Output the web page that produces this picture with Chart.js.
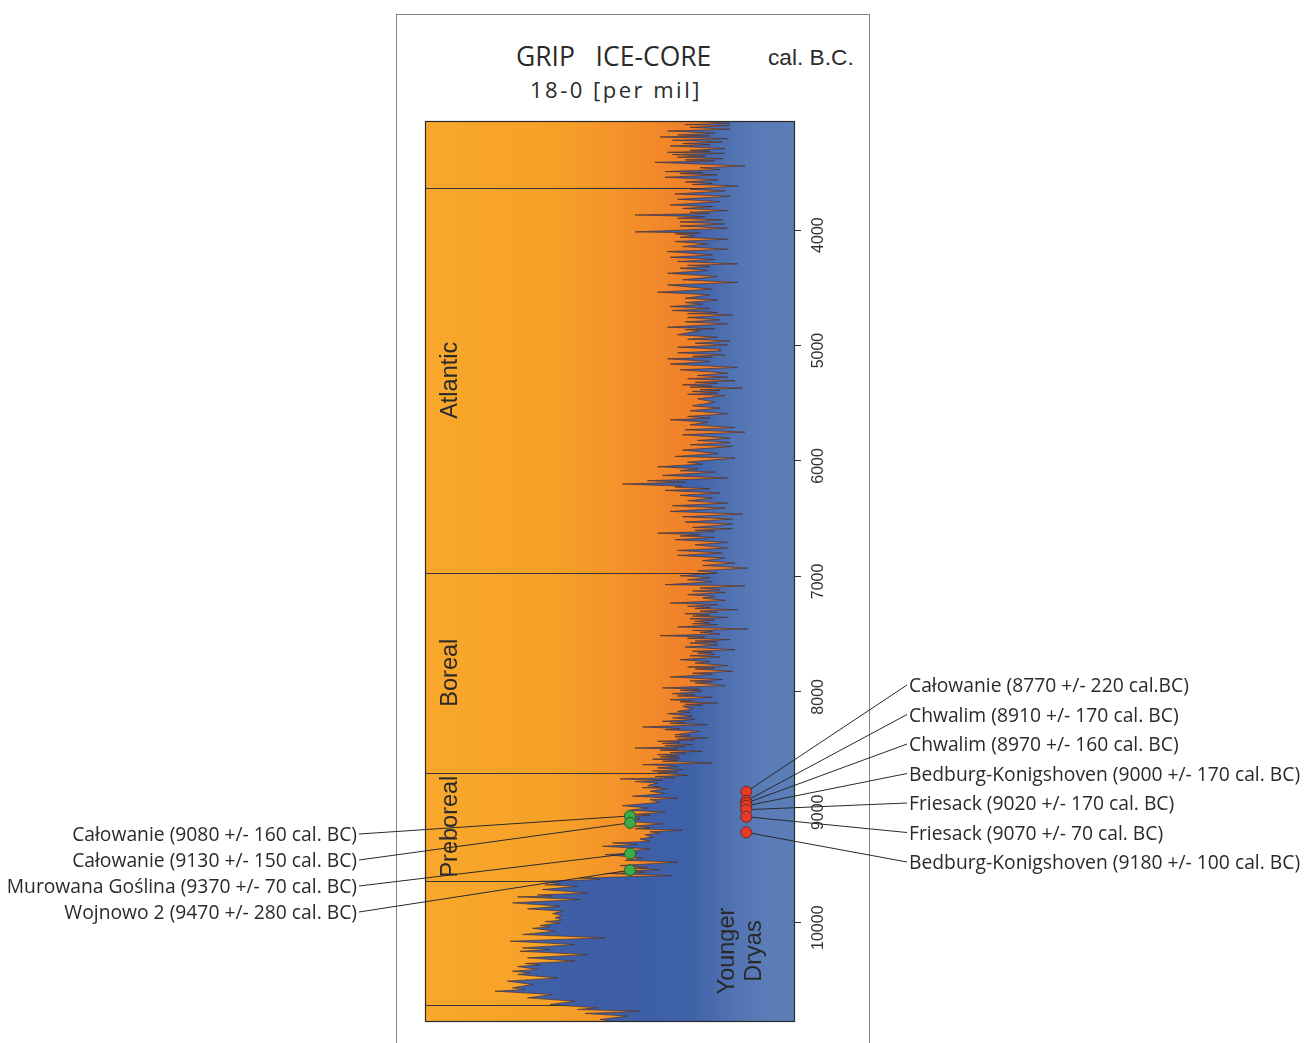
<!DOCTYPE html>
<html>
<head>
<meta charset="utf-8">
<title>GRIP ice-core</title>
<script src="https://cdn.jsdelivr.net/npm/chart.js@4.4.1/dist/chart.umd.min.js"></script>
<style>
  html, body { margin: 0; padding: 0; background: #fff; }
  body { position: relative; width: 1306px; height: 1043px; overflow: hidden; }
  #frame { position: absolute; left: 396px; top: 14px; width: 474px; height: 1100px; border: 1px solid #858585; box-sizing: border-box; }
  .hd { position: absolute; white-space: pre; color: #2b2b2b; line-height: 1; }
  #title { left: 516px; top: 43px; font-size: 26.5px; font-family: "Open Sans", sans-serif; }
  #sub { left: 530px; top: 78px; font-size: 22px; font-family: "Open Sans", sans-serif; letter-spacing: 2.5px; }
  #unit { left: 768px; top: 46px; font-size: 22.7px; font-family: "Liberation Sans", Arial, sans-serif; }
  canvas { position: absolute; left: 0; top: 0; }
</style>
</head>
<body>
<div id="frame"></div>
<div class="hd" id="title">GRIP   ICE-CORE</div>
<div class="hd" id="sub">18-0 [per mil]</div>
<div class="hd" id="unit">cal. B.C.</div>
<canvas id="chart" width="1306" height="1043"></canvas>
<script>
// GRIP d18O curve in four pieces (cal. years BC, per mil)
const coreYears1 = [3060,3075,3086,3095,3110,3127,3141,3161,3176,3185,3193,3208,3222,3237,3250,3260,3271,3294,3309,3317,
  3326,3335,3346,3358,3368,3381,3392,3402,3413,3444,3460,3476,3493,3503,3511,3522,3542,3565,3583,3595,
  3605,3617,3646,3661,3687,3707,3733,3753,3782,3797,3812,3831,3846,3856,3869,3884,3897,3912,3929,3947,
  3964,3984,4016,4024,4033,4048,4062,4079,4099,4120,4143,4166,4186,4215,4235,4255,4272,4293,4305,4316,
  4330,4350,4374,4402,4431,4454,4475,4512,4538,4561,4590,4607,4628,4642,4662,4679,4697,4714,4723,4734,
  4757,4778,4795,4812,4841,4855,4862,4870,4907,4928,4945,4959,4980,4994,5014,5032];
const coreD18O1 = [-35.0,-33.8,-35.6,-33.8,-35.4,-33.8,-36.3,-34.4,-35.9,-34.6,-36.6,-33.9,-36.1,-34.1,-35.7,-34.6,-36.2,-34.0,-35.4,-34.6,
  -36.3,-34.0,-36.1,-34.8,-35.9,-34.1,-35.6,-34.4,-36.8,-33.2,-35.0,-34.2,-36.4,-34.9,-35.8,-34.3,-36.4,-34.3,-35.6,-34.5,
  -35.3,-33.5,-35.4,-34.0,-36.0,-33.8,-35.9,-34.2,-36.2,-34.5,-35.7,-33.9,-35.4,-34.6,-37.6,-34.8,-35.9,-34.1,-35.8,-34.0,
  -35.8,-33.9,-37.6,-35.0,-36.0,-35.2,-35.8,-33.9,-36.0,-34.7,-35.7,-33.9,-36.3,-34.5,-36.2,-34.4,-35.9,-33.5,-35.5,-34.6,
  -35.8,-34.7,-36.3,-34.3,-35.7,-33.5,-36.3,-34.5,-36.7,-34.6,-35.6,-34.3,-35.6,-34.9,-36.2,-34.6,-36.1,-34.3,-35.5,-33.7,
  -35.5,-34.2,-35.6,-33.9,-36.3,-34.4,-35.6,-35.0,-35.9,-34.3,-35.5,-33.8,-35.2,-33.9,-35.9,-34.2];

const coreYears2 = [5046,5063,5081,5092,5102,5115,5138,5161,5190,5210,5239,5260,5274,5288,5306,5318,5328,5340,5352,5360,
  5369,5382,5390,5398,5412,5422,5433,5462,5490,5522,5542,5565,5591,5614,5629,5643,5664,5687,5710,5730,
  5750,5773,5802,5822,5840,5860,5874,5906,5935,5961,5975,6010,6027,6050,6068,6085,6096,6125,6148,6171,
  6183,6200,6218,6226,6241,6255,6278,6298,6322,6345,6365,6388,6408,6437,6460,6483,6503,6529,6547,6576,
  6587,6600,6610,6625,6640,6650,6662,6682,6705,6726,6754,6775,6798,6818,6841,6864,6884,6905,6928,6951,6971];
const coreD18O2 = [-34.2,-35.9,-34.0,-35.3,-34.5,-36.3,-34.6,-36.2,-33.5,-35.8,-33.9,-35.1,-33.9,-35.5,-33.6,-35.2,-34.3,-35.7,-34.5,-35.4,
  -33.3,-35.0,-34.2,-35.3,-34.3,-35.5,-34.0,-35.1,-34.4,-35.3,-34.2,-35.4,-33.9,-35.5,-34.6,-36.2,-34.7,-35.4,-33.6,-35.6,
  -33.2,-35.7,-33.8,-35.1,-33.8,-35.4,-33.7,-35.7,-34.3,-36.0,-33.6,-35.5,-34.9,-36.7,-35.1,-35.8,-34.4,-36.5,-33.9,-37.1,
  -35.6,-38.1,-35.7,-36.0,-34.6,-36.4,-34.2,-35.8,-34.5,-35.5,-33.9,-36.1,-34.0,-36.2,-33.3,-35.7,-33.7,-35.6,-33.7,-35.3,
  -33.7,-35.2,-34.4,-36.7,-35.0,-35.8,-34.4,-36.0,-33.9,-35.2,-33.9,-35.9,-34.1,-35.9,-34.0,-34.9,-33.6,-34.9,-33.1,-35.1,-34.3];

const coreYears3 = [6994,7011,7029,7046,7072,7081,7101,7115,7127,7138,7158,7173,7187,7208,7231,7245,7259,7270,7278,7288,
  7300,7312,7323,7335,7344,7355,7367,7378,7389,7402,7410,7418,7438,7456,7468,7476,7485,7499,7513,7525,
  7536,7548,7560,7568,7577,7594,7612,7635,7648,7656,7664,7676,7688,7698,7721,7739,7750,7773,7785,7794,
  7802,7822,7838,7848,7871,7894,7905,7914,7923,7946,7966,7978,7986,7995,8016,8028,8036,8047,8068,8080,
  8088,8096,8108,8116,8125,8148,8169,8177,8189,8212,8226,8240,8255,8265,8274,8284,8304,8318,8328,8342,
  8371,8380,8390,8399,8410,8418,8428,8438,8447,8457,8466,8476,8486,8496,8505,8515,8526,8535,8544,8554,
  8563,8573,8583,8592,8601,8616,8630,8645,8659,8674,8686,8694,8702,8723,8733,8744,8754,8766,8777,8789,
  8812,8825,8830,8838,8861,8881,8904,8922];
const coreD18O3 = [-35.8,-34.6,-35.5,-34.5,-36.4,-33.2,-35.0,-34.2,-35.3,-34.0,-35.5,-34.4,-34.9,-34.0,-36.2,-34.3,-35.5,-34.6,-35.2,-33.5,
  -35.0,-34.3,-35.6,-34.6,-35.3,-33.9,-35.4,-34.4,-35.2,-34.6,-35.3,-34.3,-35.9,-33.1,-35.3,-34.5,-35.0,-34.2,-36.6,-34.8,
  -35.5,-33.8,-35.2,-34.3,-35.4,-34.3,-35.6,-33.6,-35.3,-34.5,-35.1,-34.4,-35.4,-34.2,-35.8,-34.6,-35.2,-33.9,-35.5,-34.4,
  -35.2,-33.7,-35.3,-34.5,-36.2,-34.1,-35.4,-34.5,-35.2,-34.0,-36.5,-35.0,-35.8,-34.9,-36.1,-35.2,-35.9,-34.5,-36.2,-35.3,
  -35.8,-34.3,-35.6,-34.9,-35.7,-35.3,-35.9,-35.4,-36.3,-35.3,-36.1,-35.2,-36.5,-35.6,-36.2,-34.7,-37.3,-35.8,-36.4,-35.0,
  -36.0,-35.4,-36.0,-34.7,-35.9,-35.2,-36.7,-35.8,-36.5,-35.3,-36.4,-35.6,-37.6,-35.9,-36.6,-34.9,-36.2,-35.6,-36.7,-35.9,
  -36.6,-35.8,-36.9,-35.9,-36.5,-34.5,-37.3,-35.9,-36.7,-35.7,-36.9,-35.9,-36.7,-35.5,-36.8,-36.0,-38.2,-36.5,-37.6,-36.7,
  -37.1,-36.6,-37.3,-36.3,-37.0,-36.4,-37.7,-35.9];

const coreYears4 = [8934,8957,8986,9006,9026,9043,9061,9070,9078,9101,9121,9144,9164,9176,9186,9199,9212,9224,9237,9257,
  9274,9294,9309,9323,9338,9361,9381,9395,9410,9439,9459,9476,9505,9518,9528,9540,9552,9562,9574,9592,
  9612,9626,9641,9664,9672,9684,9713,9742,9759,9768,9776,9799,9828,9857,9880,9900,9921,9938,9958,9978,
  9990,10001,10024,10036,10048,10074,10102,10131,10160,10189,10218,10232,10247,10276,10304,10333,10353,10365,10379,10405,
  10420,10434,10449,10478,10506,10535,10564,10579,10593,10622,10651,10680,10709,10737,10752,10766,10786,10809,10838,10861];
const coreD18O4 = [-37.0,-36.6,-38.1,-37.1,-37.8,-36.4,-37.6,-37.0,-37.9,-37.4,-37.9,-36.5,-37.7,-37.0,-37.6,-35.7,-37.0,-36.6,-37.2,-36.9,
  -37.4,-37.0,-38.5,-37.5,-38.9,-37.0,-37.9,-37.5,-38.8,-37.3,-38.0,-35.9,-38.2,-37.1,-37.8,-36.6,-37.9,-37.2,-38.8,-36.1,
  -39.8,-39.0,-41.4,-40.6,-41.2,-39.9,-41.3,-39.5,-41.5,-40.9,-42.3,-39.8,-42.5,-40.6,-41.9,-40.5,-40.9,-40.5,-40.8,-40.5,
  -41.2,-40.6,-41.4,-41.0,-41.7,-40.8,-42.1,-38.8,-42.6,-40.0,-42.1,-41.0,-42.2,-39.5,-41.9,-40.0,-42.0,-41.4,-42.3,-41.5,
  -42.5,-41.8,-42.3,-40.7,-42.7,-41.7,-42.5,-42.0,-43.2,-40.9,-41.9,-40.0,-41.0,-39.1,-39.9,-37.4,-39.6,-37.9,-39.0,-38.3];

// y axis tick labels (cal. BC)
const yearTicks = [4000, 5000, 6000, 7000, 8000, 9000, 10000];

// pollen zones (boundaries in cal. BC)
const zoneBounds = [3635, 6968, 8700, 9635, 10717];
const zoneNames = ["Atlantic", "Boreal", "Preboreal", "Younger Dryas"];

// dated sites
const redSites = [
  "Całowanie (8770 +/- 220 cal.BC)",
  "Chwalim (8910 +/- 170 cal. BC)",
  "Chwalim (8970 +/- 160 cal. BC)",
  "Bedburg-Konigshoven (9000 +/- 170 cal. BC)",
  "Friesack (9020 +/- 170 cal. BC)",
  "Friesack (9070 +/- 70 cal. BC)",
  "Bedburg-Konigshoven (9180 +/- 100 cal. BC)"
];
const redYears = [8866, 8944, 8964, 8987, 9021, 9082, 9217];
const redD18O = [-33.15, -33.15, -33.15, -33.15, -33.15, -33.15, -33.15];

const greenSites = [
  "Całowanie (9080 +/- 160 cal. BC)",
  "Całowanie (9130 +/- 150 cal. BC)",
  "Murowana Goślina (9370 +/- 70 cal. BC)",
  "Wojnowo 2 (9470 +/- 280 cal. BC)"
];
const greenYears = [9075, 9135, 9400, 9545];
const greenD18O = [-37.8, -37.8, -37.8, -37.8];

const xMin = -46, xMax = -31.2;

const coreYears = coreYears1.concat(coreYears2, coreYears3, coreYears4);
const coreD18O = coreD18O1.concat(coreD18O2, coreD18O3, coreD18O4);
const corePoints = coreYears.map((y, i) => ({ x: coreD18O[i], y: y }));
const toPoints = (ys, xs) => ys.map((y, i) => ({ x: xs[i], y: y }));

function blueFill(context) {
  const { ctx, chartArea } = context.chart;
  if (!chartArea) return "#4466ab";
  const g = ctx.createLinearGradient(chartArea.left, 0, chartArea.right, 0);
  g.addColorStop(0, "#4264aa");
  g.addColorStop(0.5, "#3d5ea6");
  g.addColorStop(0.72, "#3f61a8");
  g.addColorStop(0.84, "#5374b2");
  g.addColorStop(0.92, "#5a7cb7");
  g.addColorStop(1, "#5b7db8");
  return g;
}

const decor = {
  id: "decor",
  beforeDatasetsDraw(chart) {
    const { ctx, chartArea: a, scales } = chart;
    const g = ctx.createLinearGradient(a.left, 0, a.right, 0);
    g.addColorStop(0, "#f9a82b");
    g.addColorStop(0.12, "#f8a62a");
    g.addColorStop(0.36, "#f6a028");
    g.addColorStop(0.53, "#f4922a");
    g.addColorStop(0.69, "#f0822a");
    g.addColorStop(0.8, "#ee7c2b");
    g.addColorStop(1, "#ee7b2b");
    ctx.save();
    ctx.fillStyle = g;
    ctx.fillRect(a.left, a.top, a.right - a.left, a.bottom - a.top);
    ctx.strokeStyle = "#3a3434";
    ctx.lineWidth = 1;
    zoneBounds.forEach(v => {
      const py = Math.round(scales.y.getPixelForValue(v)) + 0.5;
      ctx.beginPath();
      ctx.moveTo(a.left, py);
      ctx.lineTo(a.right, py);
      ctx.stroke();
    });
    ctx.restore();
  },
  afterDatasetDraw(chart, args) {
    if (args.index !== 0) return;
    const { ctx, chartArea: a, scales: { x, y } } = chart;
    ctx.save();
    // plot frame
    ctx.strokeStyle = "#2a2a2a";
    ctx.lineWidth = 1.2;
    ctx.strokeRect(a.left + 0.5, a.top + 0.5, a.right - a.left - 1, a.bottom - a.top - 1);

    // zone names, rotated
    ctx.fillStyle = "#2a2a2a";
    ctx.font = '23.5px "Liberation Sans", Arial, sans-serif';
    ctx.textAlign = "center";
    ctx.textBaseline = "alphabetic";
    zoneNames.forEach((name, i) => {
      const cy = (y.getPixelForValue(zoneBounds[i]) + y.getPixelForValue(zoneBounds[i + 1])) / 2;
      const parts = name === "Younger Dryas" ? ["Younger", "Dryas"] : [name];
      const bx = parts.length > 1 ? [a.right - 61, a.right - 34] : [a.left + 32];
      parts.forEach((p, k) => {
        ctx.save();
        ctx.translate(bx[k], cy + (parts.length > 1 ? 8 : 0));
        ctx.rotate(-Math.PI / 2);
        ctx.fillText(p, 0, 0);
        ctx.restore();
      });
    });

    // leader lines and site names
    ctx.strokeStyle = "#2a2a2a";
    ctx.lineWidth = 1;
    ctx.font = '19.3px "Open Sans", sans-serif';
    ctx.textBaseline = "alphabetic";
    ctx.textAlign = "left";
    redSites.forEach((s, i) => {
      const ly = 685 + i * 29.5;
      ctx.beginPath();
      ctx.moveTo(x.getPixelForValue(redD18O[i]), y.getPixelForValue(redYears[i]));
      ctx.lineTo(907, ly);
      ctx.stroke();
      ctx.fillText(s, 909, ly + 7);
    });
    ctx.textAlign = "right";
    greenSites.forEach((s, i) => {
      const ly = 834 + i * 26;
      ctx.beginPath();
      ctx.moveTo(359, ly);
      ctx.lineTo(x.getPixelForValue(greenD18O[i]), y.getPixelForValue(greenYears[i]));
      ctx.stroke();
      ctx.fillText(s, 357, ly + 7);
    });
    ctx.restore();
  }
};

new Chart(document.getElementById("chart"), {
  type: "line",
  data: {
    datasets: [
      {
        label: "GRIP d18O",
        data: corePoints,
        borderColor: "rgba(70,48,48,0.75)",
        borderWidth: 0.9,
        pointRadius: 0,
        tension: 0,
        fill: { value: xMax },
        backgroundColor: blueFill,
        order: 2
      },
      {
        label: "sites (right)",
        data: toPoints(redYears, redD18O),
        showLine: false,
        pointRadius: 5.5,
        pointBackgroundColor: "#e63b2a",
        pointBorderColor: "#6e2a1e",
        pointBorderWidth: 1,
        order: 0
      },
      {
        label: "sites (left)",
        data: toPoints(greenYears, greenD18O),
        showLine: false,
        pointRadius: 5.5,
        pointBackgroundColor: "#3cab4a",
        pointBorderColor: "#2c5a2e",
        pointBorderWidth: 1,
        order: 0
      }
    ]
  },
  options: {
    responsive: false,
    animation: false,
    events: [],
    indexAxis: "y",
    layout: { padding: { left: 425, top: 121, right: 471, bottom: 21 } },
    plugins: { legend: { display: false }, tooltip: { enabled: false } },
    scales: {
      x: { type: "linear", min: xMin, max: xMax, display: false },
      y: {
        type: "linear",
        position: "right",
        reverse: true,
        min: 3055,
        max: 10860,
        afterFit(scale) { scale.width = 40; },
        afterBuildTicks(scale) { scale.ticks = yearTicks.map(v => ({ value: v })); },
        border: { display: false },
        grid: { drawOnChartArea: false, tickLength: 6, color: "#333" },
        ticks: {
          minRotation: 90,
          maxRotation: 90,
          crossAlign: "center",
          padding: -5,
          labelOffset: 5,
          color: "#333",
          font: { family: "Liberation Sans", size: 16 },
          callback: v => String(v)
        }
      }
    }
  },
  plugins: [decor]
});
</script>
</body>
</html>
